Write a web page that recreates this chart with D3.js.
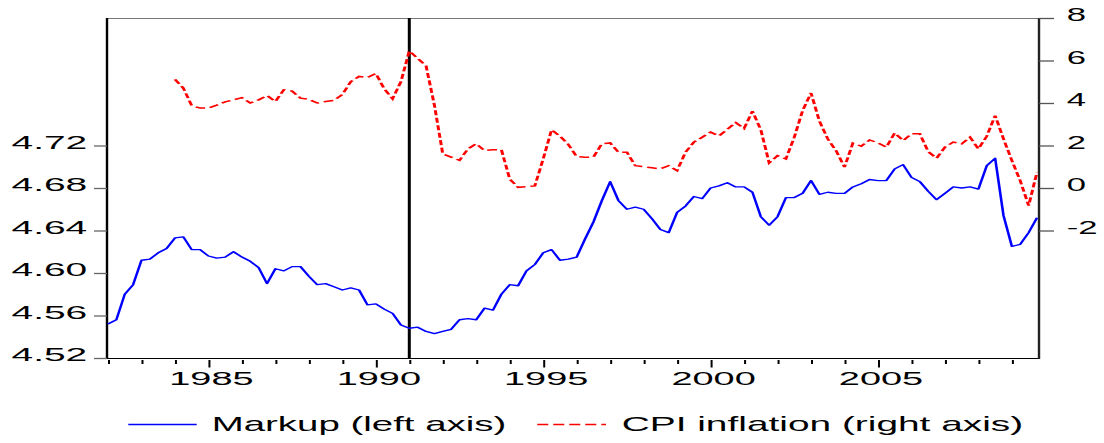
<!DOCTYPE html>
<html>
<head>
<meta charset="utf-8">
<script src="https://cdn.jsdelivr.net/npm/d3@7"></script>
<style>
  html, body { margin: 0; padding: 0; background: #fff; }
  svg { display: block; }
  text { font-family: "Liberation Sans", Arial, sans-serif; fill: #000; }
</style>
</head>
<body>
<svg id="chart" width="1104" height="443"></svg>
<script>
// Quarterly observations, 1982Q1 - 2009Q4
const markupStart = 1982;
const markup = [
  4.552, 4.556, 4.580, 4.589, 4.612, 4.613, 4.619, 4.623, 4.633, 4.634,
  4.622, 4.622, 4.616, 4.614, 4.615, 4.620, 4.615, 4.611, 4.605, 4.590,
  4.604, 4.602, 4.606, 4.606, 4.597, 4.589, 4.590, 4.587, 4.584, 4.586,
  4.584, 4.570, 4.571, 4.566, 4.562, 4.551, 4.548, 4.549, 4.545, 4.543,
  4.545, 4.547, 4.556, 4.557, 4.556, 4.567, 4.565, 4.580, 4.589, 4.588,
  4.602, 4.608, 4.619, 4.622, 4.612, 4.613, 4.615, 4.632, 4.648, 4.668,
  4.686, 4.668, 4.660, 4.662, 4.660, 4.651, 4.641, 4.638, 4.657, 4.663,
  4.672, 4.670, 4.680, 4.682, 4.685, 4.681, 4.681, 4.676, 4.653, 4.645,
  4.653, 4.671, 4.671, 4.675, 4.687, 4.674, 4.676, 4.675, 4.675, 4.681,
  4.684, 4.688, 4.687, 4.687, 4.698, 4.702, 4.690, 4.686, 4.677, 4.669,
  4.675, 4.681, 4.680, 4.681, 4.679, 4.701, 4.708, 4.654, 4.625, 4.627,
  4.638, 4.652
];

// CPI inflation (%), 1984Q1 - 2009Q4
const inflationStart = 1984;
const inflation = [
  5.11, 4.70, 3.88, 3.76, 3.76, 3.90, 4.05, 4.15, 4.25, 4.00,
  4.15, 4.35, 4.07, 4.62, 4.56, 4.23, 4.17, 4.00, 4.07, 4.12,
  4.40, 5.00, 5.25, 5.20, 5.39, 4.67, 4.20, 5.00, 6.45, 6.10,
  5.75, 3.90, 1.60, 1.45, 1.30, 1.84, 2.08, 1.76, 1.80, 1.81,
  0.42, 0.03, 0.06, 0.10, 1.37, 2.74, 2.44, 2.05, 1.48, 1.45,
  1.45, 2.08, 2.12, 1.68, 1.68, 1.05, 1.00, 0.95, 0.90, 1.05,
  0.82, 1.68, 2.16, 2.39, 2.63, 2.45, 2.76, 3.08, 2.80, 3.62,
  2.74, 1.18, 1.52, 1.37, 2.39, 3.65, 4.47, 3.15, 2.31, 1.75,
  0.98, 2.11, 1.97, 2.26, 2.12, 1.92, 2.59, 2.23, 2.55, 2.55,
  1.71, 1.40, 1.92, 2.16, 2.08, 2.39, 1.84, 2.44, 3.41, 2.31,
  1.29, 0.34, -0.83, 0.74
];

const leftTicks = [4.52, 4.56, 4.60, 4.64, 4.68, 4.72];
const rightTicks = [-2, 0, 2, 4, 6, 8];
const yearLabels = [1985, 1990, 1995, 2000, 2005];
const minorYears = d3.range(1982, 2010).filter(y => !yearLabels.includes(y));
const breakYear = 1991;
const legendLabels = ["Markup (left axis)", "CPI inflation (right axis)"];

// Plot box in page pixels
const box = { left: 107, right: 1039, top: 18, bottom: 358.5 };

// Strokes are drawn in a horizontally stretched frame (wide vertical strokes, thin horizontal ones)
const SL = 2;

const svg = d3.select("#chart");

const x = d3.scaleLinear().domain([1982, 2009.75]).range([108 / SL, 1037 / SL]);
const yL = d3.scaleLinear().domain([4.52, 4.84]).range([358, 18]);
const yR = d3.scaleLinear().domain([-8, 8]).range([358, 18]);

const plot = svg.append("g").attr("transform", `scale(${SL},1)`);

// Frame
plot.append("line")
  .attr("x1", box.left / SL).attr("x2", box.right / SL)
  .attr("y1", box.top + 0.5).attr("y2", box.top + 0.5)
  .attr("stroke", "#777").attr("stroke-width", 1);
plot.append("line")
  .attr("x1", box.left / SL).attr("x2", box.right / SL)
  .attr("y1", box.bottom).attr("y2", box.bottom)
  .attr("stroke", "#000").attr("stroke-width", 1.2);
plot.append("line")
  .attr("x1", box.left / SL).attr("x2", box.left / SL)
  .attr("y1", box.top).attr("y2", box.bottom + 0.6)
  .attr("stroke", "#000").attr("stroke-width", 1.2);
plot.append("line")
  .attr("x1", box.right / SL).attr("x2", box.right / SL)
  .attr("y1", box.top).attr("y2", box.bottom + 0.6)
  .attr("stroke", "#222").attr("stroke-width", 1.2);

// Left axis ticks
const leftAxis = plot.append("g")
  .attr("transform", `translate(${box.left / SL},0)`)
  .call(d3.axisLeft(yL).tickValues(leftTicks).tickSize(13 / SL).tickSizeOuter(0).tickFormat(""));
leftAxis.select(".domain").remove();
leftAxis.selectAll(".tick line").attr("stroke", "#666").attr("stroke-width", 1.3);

// Right axis ticks
const rightAxis = plot.append("g")
  .attr("transform", `translate(${box.right / SL},0)`)
  .call(d3.axisRight(yR).tickValues(rightTicks).tickSize(15 / SL).tickSizeOuter(0).tickFormat(""));
rightAxis.select(".domain").remove();
rightAxis.selectAll(".tick line").attr("stroke", "#555").attr("stroke-width", 1.3);

// Bottom axis: yearly minor ticks, longer ticks every five years
const minorAxis = plot.append("g")
  .attr("transform", `translate(0,${box.bottom + 1.5})`)
  .call(d3.axisBottom(x).tickValues(minorYears).tickSize(4).tickSizeOuter(0).tickFormat(""));
minorAxis.select(".domain").remove();
minorAxis.selectAll(".tick line").attr("stroke", "#000").attr("stroke-width", 1);

const majorAxis = plot.append("g")
  .attr("transform", `translate(0,${box.bottom + 1.5})`)
  .call(d3.axisBottom(x).tickValues(yearLabels).tickSize(7.5).tickSizeOuter(0).tickFormat(""));
majorAxis.select(".domain").remove();
majorAxis.selectAll(".tick line").attr("stroke", "#000").attr("stroke-width", 1);

// Break line
plot.append("line")
  .attr("x1", x(breakYear)).attr("x2", x(breakYear))
  .attr("y1", box.top).attr("y2", box.bottom)
  .attr("stroke", "#000").attr("stroke-width", 1.5);

// Series
const markupPts = markup.map((v, i) => ({ t: markupStart + i / 4, v }));
const inflationPts = inflation.map((v, i) => ({ t: inflationStart + i / 4, v }));

plot.append("path")
  .datum(inflationPts)
  .attr("fill", "none")
  .attr("stroke", "#ff0000")
  .attr("stroke-width", 1.5)
  .attr("stroke-dasharray", "5,2.5")
  .attr("d", d3.line().x(d => x(d.t)).y(d => yR(d.v)));

plot.append("path")
  .datum(markupPts)
  .attr("fill", "none")
  .attr("stroke", "#0000ff")
  .attr("stroke-width", 1.3)
  .attr("stroke-linejoin", "round")
  .attr("d", d3.line().x(d => x(d.t)).y(d => yL(d.v)));

// Stretched text helper
function label(str, px, py, size, stretch, anchor) {
  return svg.append("text")
    .attr("transform", `scale(${stretch},1)`)
    .attr("x", px / stretch)
    .attr("y", py)
    .attr("font-size", size)
    .attr("text-anchor", anchor)
    .text(str);
}

leftTicks.forEach(v => label(v.toFixed(2), 87.3, yL(v) + 3.3, 17.7, 2.2, "end"));
rightTicks.forEach(v => label(String(v), 1066.7, yR(v) + 3.3, 17.7, 1.96, "start"));
yearLabels.forEach(yr => label(String(yr), x(yr) * SL + 3, 385, 18.5, 2.05, "middle"));

// Legend
plot.append("line")
  .attr("x1", 128.3 / SL).attr("x2", 196.7 / SL)
  .attr("y1", 424.5).attr("y2", 424.5)
  .attr("stroke", "#0000ff").attr("stroke-width", 1.3);
plot.append("line")
  .attr("x1", 537.3 / SL).attr("x2", 606 / SL)
  .attr("y1", 424.5).attr("y2", 424.5)
  .attr("stroke", "#ff0000").attr("stroke-width", 1.3)
  .attr("stroke-dasharray", "5.5,2.5");

label(legendLabels[0], 211.7, 431, 21, 1.83, "start");
label(legendLabels[1], 621.7, 431, 21, 1.85, "start");
</script>
</body>
</html>
